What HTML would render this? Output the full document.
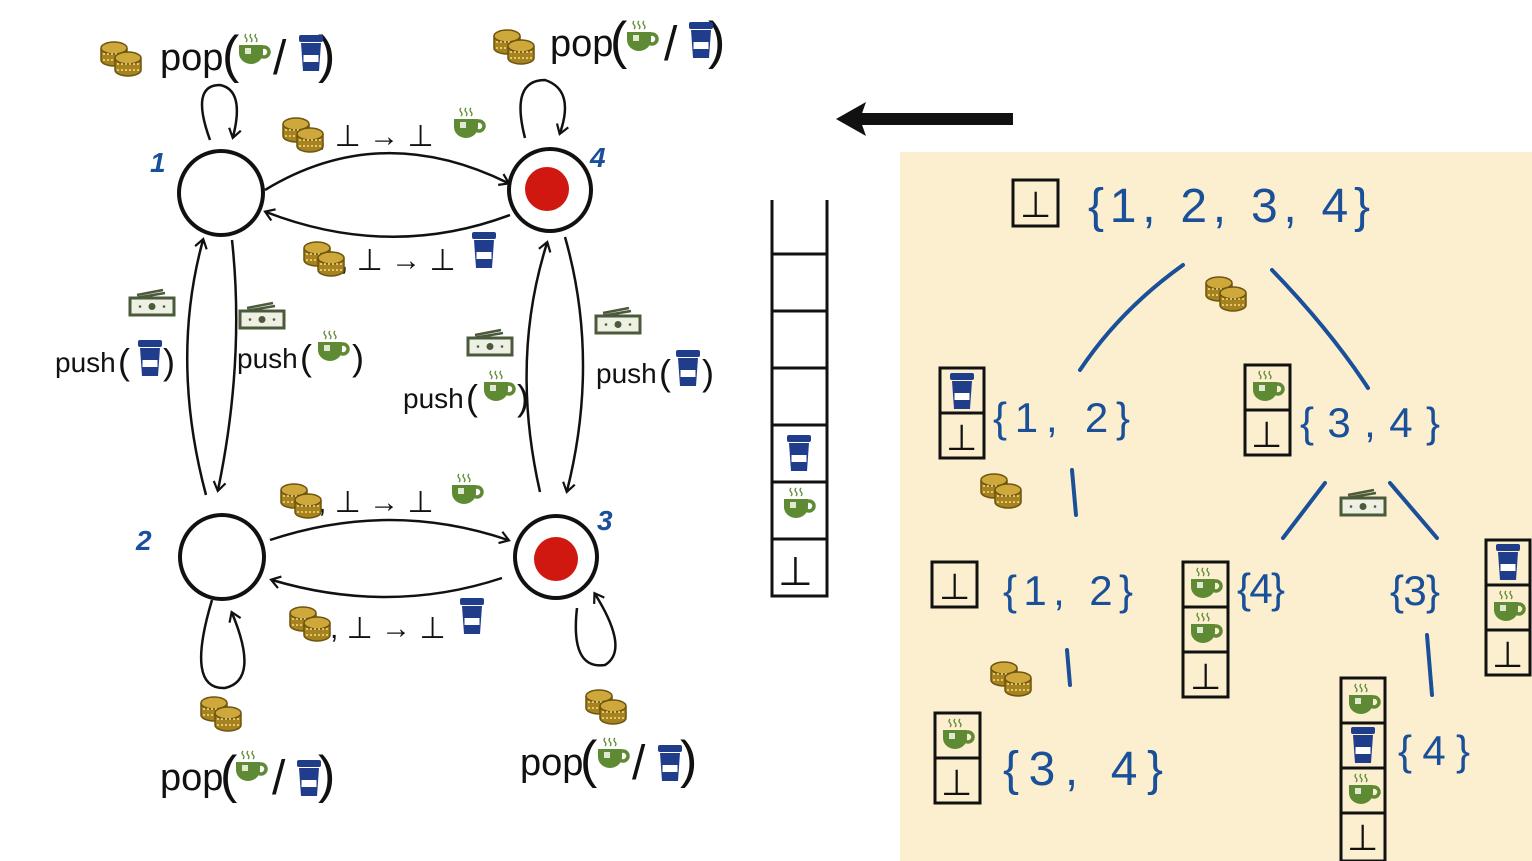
<!DOCTYPE html>
<html><head><meta charset="utf-8"><style>
html,body{margin:0;padding:0;background:#fff;}
svg{display:block;}
text{font-family:"Liberation Sans",sans-serif;}
</style></head><body>
<svg width="1532" height="861" viewBox="0 0 1532 861" xmlns="http://www.w3.org/2000/svg">
<defs>
 <g id="stk"><path d="M1 8 v12 a13 6 0 0 0 26 0 v-12" fill="#a6831f" stroke="#6e540e" stroke-width="1.5"/><ellipse cx="14" cy="8" rx="13" ry="6" fill="#cfa83c" stroke="#6e540e" stroke-width="1.5"/><path d="M3 14 h22 M3 20 h22" stroke="#f3dc8a" stroke-width="1.5" stroke-dasharray="2 2"/></g>
 <g id="coins"><use href="#stk" x="0" y="0"/><use href="#stk" x="14" y="10"/></g>
 <g id="mug">
  <path d="M9 1 q-2 2 0 4 q2 2 0 4 M14 1 q-2 2 0 4 q2 2 0 4 M19 1 q-2 2 0 4 q2 2 0 4" stroke="#5e8a34" stroke-width="1.3" fill="none"/>
  <path d="M2 12 h24 v8 a12 11 0 0 1 -24 0 z" fill="#5e8a34"/>
  <circle cx="27" cy="19" r="5" fill="none" stroke="#5e8a34" stroke-width="3.5"/>
  <rect x="8" y="15" width="6" height="6" fill="#dfe8d0"/>
 </g>
 <g id="bcup">
  <rect x="0" y="0" width="24" height="7" rx="2" fill="#1f3d8a"/>
  <path d="M2 8 h20 l-2 28 h-16 z" fill="#1f3d8a"/>
  <rect x="4.5" y="20" width="15" height="7" fill="#fff"/>
 </g>
 <g id="cash">
  <path d="M8 5 l26 -5 M6 8 l30 -5" stroke="#4a5a3a" stroke-width="2.5"/>
  <rect x="1" y="8" width="44" height="17" fill="#eef0e4" stroke="#4a5a3a" stroke-width="3"/>
  <circle cx="23" cy="16.5" r="3.5" fill="#4a5a3a"/><circle cx="11" cy="16.5" r="1.3" fill="#4a5a3a"/><circle cx="35" cy="16.5" r="1.3" fill="#4a5a3a"/>
 </g>
 <marker id="ah" markerWidth="14" markerHeight="14" refX="10" refY="7" orient="auto" markerUnits="userSpaceOnUse"><path d="M2 1 L11 7 L2 13" fill="none" stroke="#111" stroke-width="2.2"/></marker>
</defs>

<rect x="900" y="152" width="632" height="709" fill="#fcefcf"/>

<rect x="858" y="113" width="155" height="12" fill="#111"/>
<path d="M836 119 L866 102 L860 119 L866 136 Z" fill="#111"/>

<g stroke="#111" stroke-width="4" fill="#fff">
 <circle cx="221" cy="193" r="42"/><circle cx="550" cy="190" r="41"/>
 <circle cx="222" cy="557" r="42"/><circle cx="556" cy="557" r="41"/>
</g>
<circle cx="547" cy="189" r="22" fill="#d01810"/><circle cx="556" cy="559" r="22" fill="#d01810"/>
<g fill="#1a4f9a" font-size="28" font-weight="bold" font-style="italic">
 <text x="150" y="172">1</text><text x="590" y="167">4</text><text x="136" y="550">2</text><text x="597" y="530">3</text>
</g>

<g fill="none" stroke="#111" stroke-width="2.5" marker-end="url(#ah)">
 <path d="M265 190 Q380 120 508 183"/>
 <path d="M510 215 Q390 260 266 212"/>
 <path d="M270 540 Q390 500 508 540"/>
 <path d="M502 578 Q390 615 272 580"/>
 <path d="M206 495 Q170 360 203 240"/>
 <path d="M232 240 Q245 360 218 490"/>
 <path d="M540 492 Q510 360 547 243"/>
 <path d="M565 237 Q600 360 567 491"/>
 <path d="M210 140 Q190 85 220 85 Q245 90 233 137"/>
 <path d="M525 138 Q510 80 545 80 Q575 90 560 133"/>
 <path d="M212 600 Q185 690 225 688 Q260 680 232 613"/>
 <path d="M577 608 Q570 670 605 665 Q630 650 595 594"/>
</g>

<!-- pop labels -->
<g fill="#111" font-size="38">
 <text x="160" y="70">pop</text><text x="222" y="72" font-size="52">(</text><text x="273" y="74" font-size="48">/</text><text x="318" y="72" font-size="52">)</text>
 <text x="550" y="56">pop</text><text x="610" y="58" font-size="52">(</text><text x="664" y="60" font-size="48">/</text><text x="708" y="58" font-size="52">)</text>
 <text x="160" y="790">pop</text><text x="220" y="792" font-size="52">(</text><text x="272" y="794" font-size="48">/</text><text x="318" y="792" font-size="52">)</text>
 <text x="520" y="775">pop</text><text x="580" y="777" font-size="52">(</text><text x="632" y="779" font-size="48">/</text><text x="680" y="777" font-size="52">)</text>
</g>
<use href="#coins" x="100" y="40"/><use href="#mug" x="237" y="33"/><use href="#bcup" x="299" y="35"/>
<use href="#coins" x="493" y="28"/><use href="#mug" x="625" y="20"/><use href="#bcup" x="689" y="22"/>
<use href="#coins" x="200" y="695"/><use href="#mug" x="234" y="750"/><use href="#bcup" x="297" y="760"/>
<use href="#coins" x="585" y="688"/><use href="#mug" x="596" y="737"/><use href="#bcup" x="658" y="745"/>

<g fill="#111" font-size="30">
 <text x="318" y="146">, ⊥ → ⊥</text><text x="340" y="270">, ⊥ → ⊥</text>
 <text x="318" y="512">, ⊥ → ⊥</text><text x="330" y="638">, ⊥ → ⊥</text>
</g>
<use href="#coins" x="282" y="116"/><use href="#mug" x="452" y="107"/>
<use href="#coins" x="303" y="240"/><use href="#bcup" x="472" y="232"/>
<use href="#coins" x="280" y="482"/><use href="#mug" x="450" y="473"/>
<use href="#coins" x="289" y="605"/><use href="#bcup" x="460" y="598"/>

<g fill="#111" font-size="28">
 <text x="55" y="372">push</text><text x="118" y="374" font-size="36">(</text><text x="163" y="374" font-size="36">)</text>
 <text x="237" y="368">push</text><text x="300" y="370" font-size="36">(</text><text x="352" y="370" font-size="36">)</text>
 <text x="403" y="408">push</text><text x="466" y="410" font-size="36">(</text><text x="517" y="410" font-size="36">)</text>
 <text x="596" y="383">push</text><text x="659" y="385" font-size="36">(</text><text x="702" y="385" font-size="36">)</text>
</g>
<use href="#cash" x="129" y="290"/><use href="#bcup" x="138" y="340"/>
<use href="#cash" x="239" y="303"/><use href="#mug" x="316" y="330"/>
<use href="#cash" x="467" y="330"/><use href="#mug" x="482" y="370"/>
<use href="#cash" x="595" y="308"/><use href="#bcup" x="676" y="350"/>

<g stroke="#111" stroke-width="3" fill="none">
 <path d="M772 200 V596 H827 V200"/>
 <path d="M772 254 H827 M772 311 H827 M772 368 H827 M772 425 H827 M772 482 H827 M772 539 H827"/>
</g>
<use href="#bcup" x="787" y="435"/><use href="#mug" x="782" y="487"/>
<text x="778" y="585" font-size="40" fill="#111">⊥</text>

<g fill="#1a4f9a" font-size="44" lengthAdjust="spacing">
 <text x="1088" y="222" font-size="48" textLength="282" lengthAdjust="spacing">{1, 2, 3, 4}</text>
 <text x="993" y="432" font-size="42" textLength="137" lengthAdjust="spacing">{1, 2}</text>
 <text x="1300" y="437" font-size="42" textLength="140" lengthAdjust="spacing">{3,4}</text>
 <text x="1003" y="605" font-size="42" textLength="130" lengthAdjust="spacing">{1, 2}</text>
 <text x="1237" y="603" font-size="42" textLength="48" lengthAdjust="spacing">{4}</text>
 <text x="1390" y="605" font-size="42" textLength="50" lengthAdjust="spacing">{3}</text>
 <text x="1003" y="785" font-size="48" textLength="160" lengthAdjust="spacing">{3, 4}</text>
 <text x="1398" y="765" font-size="42" textLength="72" lengthAdjust="spacing">{4}</text>
</g>
<g stroke="#1a4f9a" stroke-width="4" fill="none" stroke-linecap="round">
 <path d="M1183 265 Q1120 310 1080 370"/><path d="M1272 270 Q1330 330 1368 388"/>
 <path d="M1072 470 L1076 515"/><path d="M1325 483 L1283 538"/><path d="M1390 483 L1437 538"/>
 <path d="M1067 650 L1070 685"/><path d="M1427 635 L1432 695"/>
</g>
<use href="#coins" x="1205" y="275"/><use href="#coins" x="980" y="472"/><use href="#cash" x="1340" y="490"/><use href="#coins" x="990" y="660"/>

<g stroke="#111" stroke-width="3" fill="#fcefcf">
 <rect x="1013" y="180" width="45" height="46"/>
 <rect x="940" y="368" width="44" height="90"/><path d="M940 413 H984"/>
 <rect x="1245" y="365" width="45" height="90"/><path d="M1245 410 H1290"/>
 <rect x="932" y="562" width="45" height="45"/>
 <rect x="1183" y="562" width="45" height="135"/><path d="M1183 607 H1228 M1183 652 H1228"/>
 <rect x="1486" y="540" width="44" height="135"/><path d="M1486 585 H1530 M1486 630 H1530"/>
 <rect x="935" y="713" width="45" height="90"/><path d="M935 758 H980"/>
 <rect x="1341" y="678" width="44" height="183"/><path d="M1341 723 H1385 M1341 768 H1385 M1341 813 H1385"/>
</g>
<g fill="#111" font-size="36">
 <text x="1020" y="217">⊥</text><text x="946" y="450">⊥</text><text x="1251" y="447">⊥</text>
 <text x="939" y="599">⊥</text><text x="1190" y="689">⊥</text><text x="1492" y="667">⊥</text>
 <text x="941" y="795">⊥</text><text x="1347" y="850">⊥</text>
</g>
<use href="#bcup" x="950" y="373"/>
<use href="#mug" x="1251" y="370"/>
<use href="#mug" x="1189" y="567"/><use href="#mug" x="1189" y="612"/>
<use href="#bcup" x="1496" y="544"/><use href="#mug" x="1492" y="590"/>
<use href="#mug" x="941" y="718"/>
<use href="#mug" x="1347" y="683"/><use href="#bcup" x="1351" y="727"/><use href="#mug" x="1347" y="773"/>
</svg>
</body></html>
